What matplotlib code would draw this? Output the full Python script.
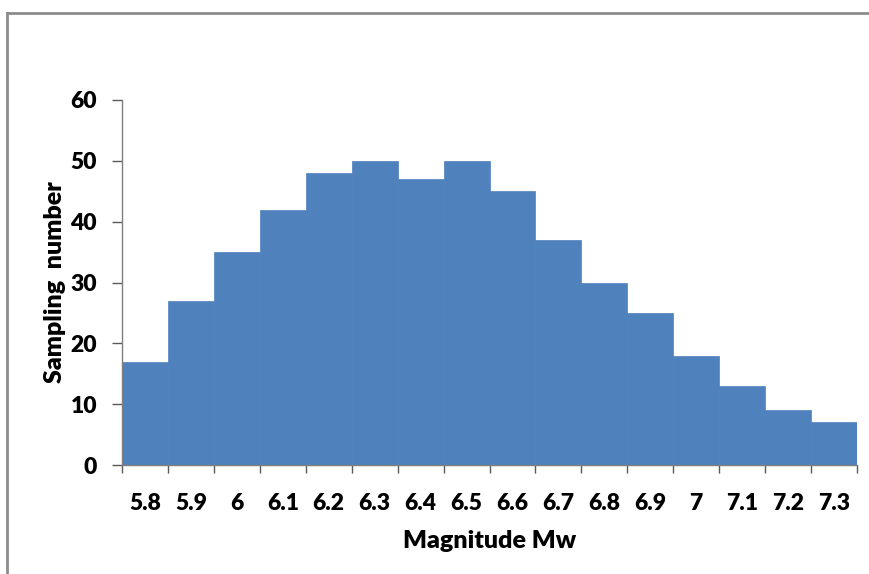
import matplotlib
matplotlib.use("Agg")
import matplotlib.pyplot as plt
from matplotlib.lines import Line2D

# Magnitude bins and sample counts per bin
magnitudes = ["5.8", "5.9", "6", "6.1", "6.2", "6.3", "6.4", "6.5",
              "6.6", "6.7", "6.8", "6.9", "7", "7.1", "7.2", "7.3"]
counts = [17, 27, 35, 42, 48, 50, 47, 50, 45, 37, 30, 25, 18, 13, 9, 7]
y_ticks = [0, 10, 20, 30, 40, 50, 60]

plt.rcParams["font.family"] = ["Lato", "DejaVu Sans"]

W, H = 869, 574
fig = plt.figure(figsize=(W / 100, H / 100), dpi=100)
ax = fig.add_axes([122 / W, 1 - 465 / H, (857 - 122) / W, (465 - 100) / H])

pos = list(range(len(counts)))
ax.bar(pos, counts, width=1.0, color="#4F81BD", edgecolor="#4F81BD",
       linewidth=0.5, zorder=2)

ax.set_xlim(-0.5, len(counts) - 0.5)
ax.set_ylim(0, 60)
ax.set_yticks(y_ticks)
ax.set_yticklabels([str(v) for v in y_ticks], fontsize=16.5, fontweight="heavy")

# category labels centred on bars, tick marks on bar edges
ax.set_xticks(pos)
ax.set_xticklabels(magnitudes, fontsize=16.5, fontweight="heavy")
ax.tick_params(axis="x", which="major", length=0, pad=20.5)
ax.set_xticks([p - 0.5 for p in pos] + [len(counts) - 0.5], minor=True)
ax.tick_params(axis="x", which="minor", length=6, width=1, color="#595959",
               direction="out")
ax.tick_params(axis="y", length=7, width=1, color="#595959", pad=11)

for s in ["top", "right"]:
    ax.spines[s].set_visible(False)
for s in ["left", "bottom"]:
    ax.spines[s].set_color("#7f7f7f")
    ax.spines[s].set_linewidth(1)
    ax.spines[s].set_zorder(3)

ax.set_xlabel("Magnitude Mw", fontsize=18, fontweight="heavy", labelpad=11)
ax.set_ylabel("Sampling  number", fontsize=18, fontweight="heavy", labelpad=3)

# chart area frame (left and top edges)
fig.add_artist(Line2D([7.5 / W, 7.5 / W], [0, 1 - 13 / H], transform=fig.transFigure,
                      color="#8c8c8c", linewidth=2))
fig.add_artist(Line2D([7.5 / W, 1], [1 - 13 / H, 1 - 13 / H], transform=fig.transFigure,
                      color="#8c8c8c", linewidth=2))

fig.savefig("out.png", dpi=100)
